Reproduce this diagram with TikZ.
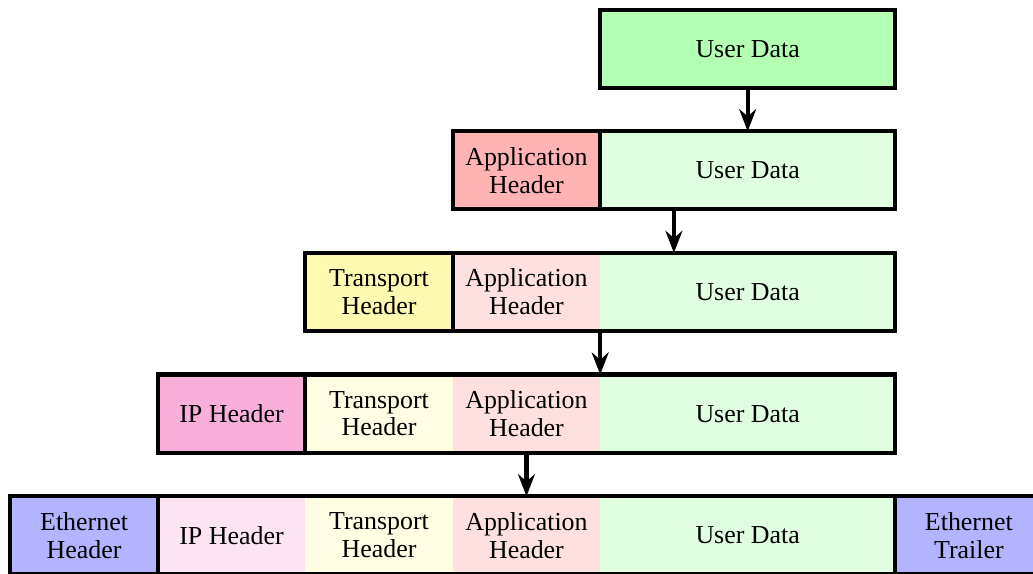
\documentclass[tikz,border=0pt]{standalone}
\usepackage{fontspec}
\setmainfont{Liberation Serif}
\usetikzlibrary{arrows.meta,positioning,fit}
\definecolor{udfull}{HTML}{B3FFB3}
\definecolor{udpale}{HTML}{E0FFE0}
\definecolor{apfull}{HTML}{FFB3B3}
\definecolor{appale}{HTML}{FFE0E0}
\definecolor{trfull}{HTML}{FFFAB0}
\definecolor{trpale}{HTML}{FFFDE2}
\definecolor{ipfull}{HTML}{F8B0DA}
\definecolor{ippale}{HTML}{FCE4F2}
\definecolor{ethfull}{HTML}{B3B3FF}
\tikzset{
  cell/.style = {anchor=north west, inner sep=0pt, outer sep=0pt, align=center,
    minimum width=2cm, minimum height=1.06cm, font=\fontsize{10pt}{10.8pt}\selectfont},
  wcell/.style = {cell, minimum width=4cm},% user data, twice as wide
  hdr/.style = {cell, draw=black, line width=1.6pt, fill=#1},% header added at this layer
  pale/.style = {cell, fill=#1},% data carried from the layer above
  frame/.style = {draw=black, line width=1.6pt, inner sep=0pt, outer sep=0pt},
  row/.style = {inner sep=0pt, outer sep=0pt},% whole packet, not drawn
  pkarrow/.style = {-{Stealth[length=8.5pt,width=6.5pt]}, line width=1.6pt},
}
\begin{document}
\begin{tikzpicture}
\useasboundingbox (-0.14,0.13) rectangle (13.87,-7.653);
% user data
\node [hdr=udfull, wcell] (ud1) at (8,0) {User Data};
% application
\node [hdr=apfull] (ap2) at (6,-1.65) {Application\\Header};
\node [pale=udpale, wcell, right=0pt of ap2] (ud2) {User Data};
\node [frame, fit=(ud2)] (pk2) {};
\node [row, fit=(ap2)(ud2)] (row2) {};
% transport
\node [hdr=trfull] (tr3) at (4,-3.3) {Transport\\Header};
\node [pale=appale, right=0pt of tr3] (ap3) {Application\\Header};
\node [pale=udpale, wcell, right=0pt of ap3] (ud3) {User Data};
\node [frame, fit=(ap3)(ud3)] (pk3) {};
\node [row, fit=(tr3)(ud3)] (row3) {};
% network
\node [hdr=ipfull] (ip4) at (2,-4.95) {IP Header};
\node [pale=trpale, right=0pt of ip4] (tr4) {Transport\\Header};
\node [pale=appale, right=0pt of tr4] (ap4) {Application\\Header};
\node [pale=udpale, wcell, right=0pt of ap4] (ud4) {User Data};
\node [frame, fit=(tr4)(ud4)] (pk4) {};
\node [row, fit=(ip4)(ud4)] (row4) {};
% link
\node [hdr=ethfull] (eh5) at (0,-6.6) {Ethernet\\Header};
\node [pale=ippale, right=0pt of eh5] (ip5) {IP Header};
\node [pale=trpale, right=0pt of ip5] (tr5) {Transport\\Header};
\node [pale=appale, right=0pt of tr5] (ap5) {Application\\Header};
\node [pale=udpale, wcell, right=0pt of ap5] (ud5) {User Data};
\node [hdr=ethfull, right=0pt of ud5] (et5) {Ethernet\\Trailer};
\node [frame, fit=(ip5)(ud5)] (pk5) {};

% encapsulation steps
\draw [pkarrow] (ud1.south) -- (ud1.south |- row2.north);
\draw [pkarrow] (row2.south) -- (row2.south |- row3.north);
\draw [pkarrow] (row3.south) -- (row3.south |- row4.north);
\draw [pkarrow] (row4.south) -- (row4.south |- pk5.north);
\end{tikzpicture}
\end{document}
